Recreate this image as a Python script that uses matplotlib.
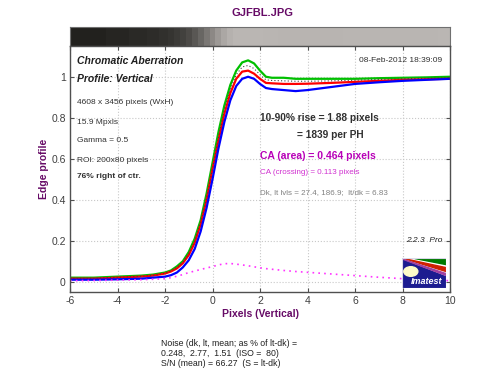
import numpy as np
import matplotlib
matplotlib.use("Agg")
import matplotlib.pyplot as plt
from matplotlib.colors import LinearSegmentedColormap, PowerNorm
from matplotlib.patches import Rectangle, Polygon, Circle

plt.rcParams["font.family"] = ["Liberation Sans", "DejaVu Sans"]
plt.rcParams["axes.unicode_minus"] = False

# edge profile samples (pixels, normalised level)
x = [-6, -5, -4, -3, -2.5, -2, -1.75, -1.5, -1.25, -1, -0.75, -0.5, -0.25, 0,
     0.25, 0.5, 0.75, 1, 1.25, 1.5, 1.75, 2, 2.25, 2.5, 3, 3.5, 4, 5, 6, 7, 8, 9, 10]
green = [0.02, 0.02, 0.025, 0.03, 0.035, 0.045, 0.055, 0.075, 0.10, 0.145, 0.21, 0.30, 0.43, 0.58,
         0.73, 0.86, 0.96, 1.03, 1.07, 1.08, 1.065, 1.03, 1.0, 0.995, 0.995, 0.99, 0.99, 0.99, 0.99,
         0.993, 0.995, 0.997, 1.0]
red = [0.015, 0.015, 0.02, 0.025, 0.03, 0.04, 0.05, 0.065, 0.09, 0.13, 0.19, 0.28, 0.40, 0.55,
       0.69, 0.82, 0.92, 0.99, 1.025, 1.03, 1.015, 0.99, 0.97, 0.968, 0.965, 0.965, 0.966, 0.97,
       0.975, 0.98, 0.985, 0.988, 0.99]
blue = [0.01, 0.01, 0.012, 0.015, 0.02, 0.025, 0.032, 0.045, 0.07, 0.105, 0.16, 0.245, 0.36, 0.5,
        0.65, 0.78, 0.885, 0.955, 0.99, 1.0, 0.99, 0.965, 0.945, 0.94, 0.935, 0.93, 0.935, 0.95,
        0.965, 0.973, 0.98, 0.985, 0.99]
mean = [0.017, 0.017, 0.022, 0.027, 0.032, 0.042, 0.052, 0.07, 0.095, 0.138, 0.2, 0.29, 0.41, 0.55,
        0.705, 0.84, 0.94, 1.01, 1.048, 1.055, 1.04, 1.01, 0.985, 0.982, 0.98, 0.978, 0.978, 0.98,
        0.983, 0.987, 0.99, 0.993, 0.995]
ca_diff = [0.005, 0.006, 0.008, 0.01, 0.012, 0.015, 0.02, 0.027, 0.035, 0.045, 0.052, 0.06, 0.067,
           0.074, 0.082, 0.088, 0.089, 0.086, 0.082, 0.078, 0.073, 0.068, 0.064, 0.061, 0.055, 0.05,
           0.046, 0.038, 0.03, 0.022, 0.015, 0.01, 0.005]

xticks = [-6, -4, -2, 0, 2, 4, 6, 8, 10]
yticks = [0, 0.2, 0.4, 0.6, 0.8, 1]
ytick_labels = ["0", "0.2", "0.4", "0.6", "0.8", "1"]

purple = "#660a66"
magenta = "#b800b8"
W, H = 500, 384


def fx(px):
    return px / W


def fy(py):
    return 1 - py / H


fig = plt.figure(figsize=(5, 3.84), dpi=100)

# gradient strip above the plot (gamma-encoded edge image)
ax_s = fig.add_axes([fx(70), fy(46), fx(450) - fx(70), fy(27) - fy(46)])
cmap = LinearSegmentedColormap.from_list("edge", ["#22211e", "#bab6b3"])
ax_s.pcolormesh(x, [0, 1], np.vstack([mean, mean]), cmap=cmap,
                norm=PowerNorm(0.6, vmin=0.02, vmax=1.0, clip=True), shading="nearest")
ax_s.set_xlim(-6, 10)
ax_s.set_ylim(0, 1)
ax_s.set_xticks([])
ax_s.set_yticks([])
for s in ax_s.spines.values():
    s.set_color("#707070")

# main plot
ax = fig.add_axes([fx(70), fy(292), fx(450) - fx(70), fy(46) - fy(292)])
ax.plot(x, green, color="#00c000", lw=1.6)
ax.plot(x, red, color="#ff0000", lw=1.6)
ax.plot(x, blue, color="#0000ff", lw=1.6)
ax.plot(x, mean, color="#404040", lw=0.8, ls=(0, (1, 2)))
ax.plot(x, ca_diff, color="#ff33ff", lw=1.2, ls=(0, (1, 2.5)))
ax.set_xlim(-6, 10)
ax.set_ylim(-0.05, 1.15)
ax.set_xticks(xticks)
ax.set_yticks(yticks)
ax.set_yticklabels(ytick_labels)
ax.grid(True, ls=":", color="#c8c8c8", lw=0.8)
ax.tick_params(direction="in", top=True, right=True, length=3, width=0.8,
               color="#505050", labelsize=7.5, labelcolor="#404040", pad=3)
for s in ax.spines.values():
    s.set_color("#505050")
    s.set_linewidth(1.0)
ax.set_xlabel("Pixels (Vertical)", color=purple, fontsize=7.5, fontweight="bold", labelpad=2)
ax.set_ylabel("Edge profile", color=purple, fontsize=7.5, fontweight="bold", labelpad=1.5)

fig.text(fx(262), fy(13), "GJFBL.JPG", color=purple, fontsize=8, fontweight="bold",
         ha="center", va="center")

# left info block
fig.text(fx(77), fy(61), "Chromatic Aberration", fontsize=7.5, fontweight="bold",
         style="italic", color="#202020", va="center")
fig.text(fx(77), fy(79), "Profile: Vertical", fontsize=7.5, fontweight="bold",
         style="italic", color="#202020", va="center")
left_lines = [("4608 x 3456 pixels (WxH)", 103, "normal"), ("15.9 Mpxls", 122, "normal"),
              ("Gamma = 0.5", 141, "normal"), ("ROI: 200x80 pixels", 160, "normal"),
              ("76% right of ctr.", 177, "bold")]
for txt, py, wt in left_lines:
    fig.text(fx(77), fy(py), txt, fontsize=6, fontweight=wt, color="#303030", va="center")

# right info block
fig.text(fx(442), fy(61), "08-Feb-2012 18:39:09", fontsize=6, color="#303030",
         ha="right", va="center")
fig.text(fx(260), fy(118), "10-90% rise = 1.88 pixels", fontsize=7.3, fontweight="bold",
         color="#303030", va="center")
fig.text(fx(297), fy(135), "= 1839 per PH", fontsize=7.3, fontweight="bold",
         color="#303030", va="center")
fig.text(fx(260), fy(156), "CA (area) = 0.464 pixels", fontsize=7.5, fontweight="bold",
         color=magenta, va="center")
fig.text(fx(260), fy(173), "CA (crossing) = 0.113 pixels", fontsize=5.8,
         color="#d030d0", va="center")
fig.text(fx(260), fy(193), "Dk, lt lvls = 27.4, 186.9;  lt/dk = 6.83", fontsize=5.8,
         color="#808080", va="center")
fig.text(fx(442), fy(241), "2.2.3  Pro", fontsize=6, style="italic", color="#202020",
         ha="right", va="center")

# Imatest logo
ax_l = fig.add_axes([fx(402), fy(288), fx(446) - fx(402), fy(258) - fy(288)])
ax_l.set_xlim(0, 1)
ax_l.set_ylim(0, 1)
ax_l.axis("off")
ax_l.add_patch(Rectangle((0, 0), 1, 1, color="#1c1c90"))
ax_l.add_patch(Polygon([(0, 1), (1, 1), (1, 0.45)], color="white"))
ax_l.add_patch(Polygon([(0.3, 1), (1, 1), (1, 0.78), (0.3, 0.98)], color="#007a00"))
ax_l.add_patch(Polygon([(0.05, 0.98), (1, 0.68), (1, 0.55)], color="#d02000"))
ax_l.add_patch(Polygon([(0, 0.97), (1, 0.48), (1, 0.42)], color="#a040a0"))
ax_l.add_patch(Circle((0.2, 0.55), 0.16, color="#fffcc8", transform=ax_l.transData))
ax_l.add_patch(Rectangle((0, 0), 1, 1, fill=False, ec="#d8d8e8", lw=0.8))
ax_l.text(0.55, 0.22, "Imatest", color="white", fontsize=6.5, fontweight="bold",
          style="italic", ha="center", va="center")

# noise summary
noise_lines = ["Noise (dk, lt, mean; as % of lt-dk) =",
               "0.248,  2.77,  1.51  (ISO =  80)",
               "S/N (mean) = 66.27  (S = lt-dk)"]
for i, txt in enumerate(noise_lines):
    fig.text(fx(161), fy(343 + 10.5 * i), txt, fontsize=6.3, color="#202020", va="center")

fig.savefig("out.png", dpi=100)
